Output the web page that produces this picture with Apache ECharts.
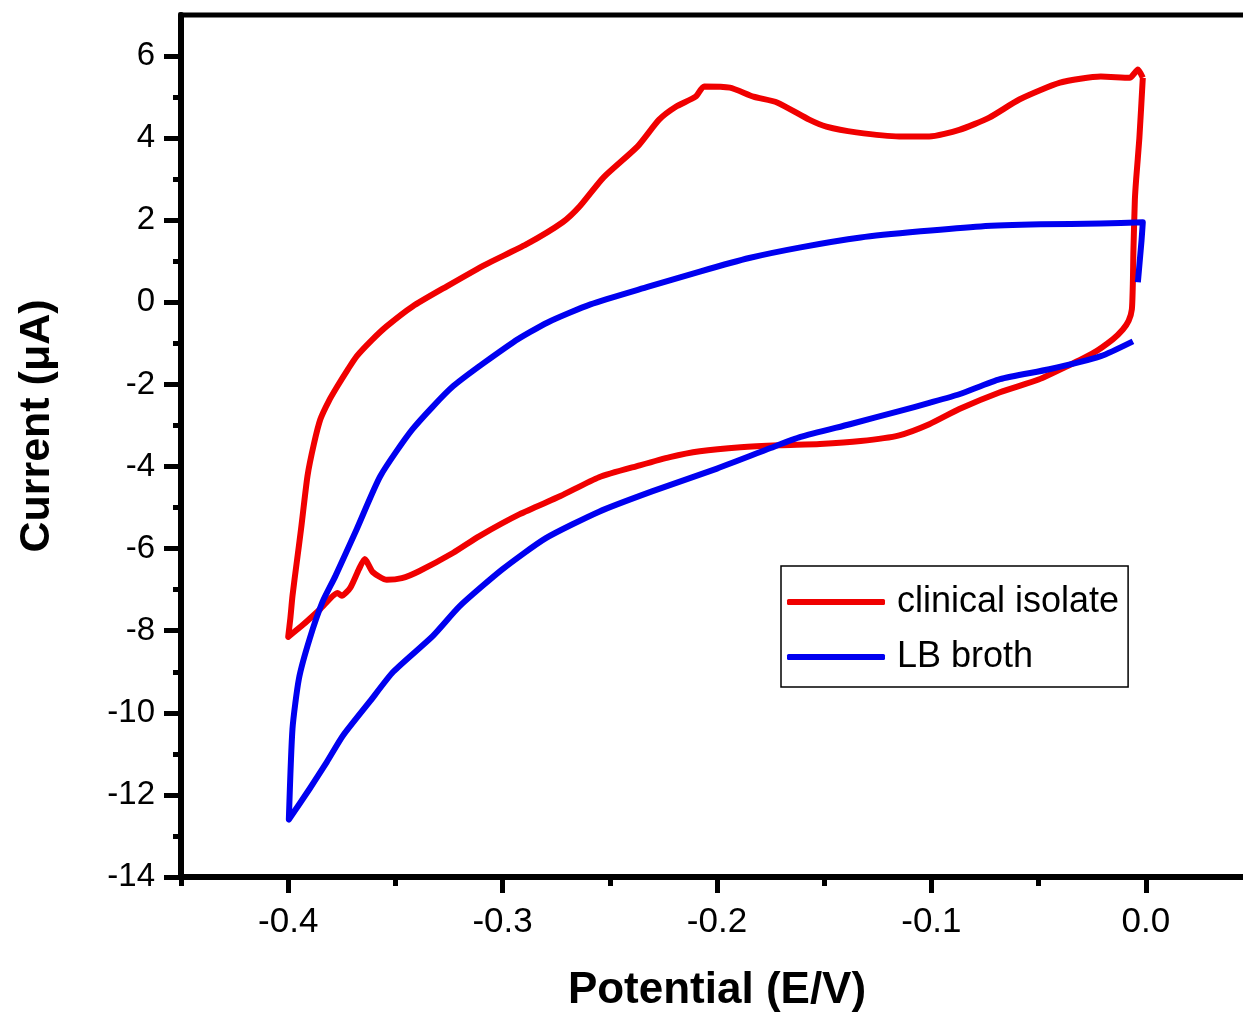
<!DOCTYPE html>
<html>
<head>
<meta charset="utf-8">
<script src="https://cdn.jsdelivr.net/npm/echarts@6/dist/echarts.min.js"></script>
<style>
html,body{margin:0;padding:0;background:#fff;}
#chart{width:1243px;height:1012px;}
</style>
</head>
<body>
<div id="chart"></div>
<script>
// clinical isolate (red) - potential / current, in drawing order
var redV = [-0.0014,-0.003,-0.0045,-0.0051,-0.0058,-0.006,-0.0065,-0.008,-0.0107,-0.0154,-0.025,-0.0368,-0.05,-0.068,-0.087,-0.101,-0.115,-0.133,-0.152,-0.171,-0.189,-0.208,-0.222,-0.236,-0.255,-0.273,-0.292,-0.311,-0.323,-0.339,-0.347,-0.354,-0.3606,-0.3643,-0.367,-0.371,-0.375,-0.377,-0.385,-0.393,-0.4,
  -0.399,-0.398,-0.396,-0.394,-0.391,-0.388,-0.385,-0.381,-0.377,-0.372,-0.368,-0.361,-0.354,-0.342,-0.326,-0.308,-0.289,-0.272,-0.264,-0.253,-0.237,-0.227,-0.219,-0.21,-0.206,-0.194,-0.183,-0.172,-0.157,-0.149,-0.135,-0.115,-0.101,-0.087,-0.073,-0.059,-0.04,-0.021,-0.0075,-0.0037,-0.0014];
var redI = [5.47,4.0,3.0,2.5,1.2,0.56,-0.17,-0.45,-0.66,-0.9,-1.25,-1.56,-1.88,-2.19,-2.6,-2.97,-3.24,-3.38,-3.45,-3.48,-3.53,-3.63,-3.77,-3.97,-4.26,-4.72,-5.16,-5.7,-6.1,-6.55,-6.72,-6.76,-6.57,-6.25,-6.5,-6.95,-7.15,-7.08,-7.47,-7.85,-8.15,
  -7.7,-7.15,-6.33,-5.52,-4.23,-3.45,-2.85,-2.4,-2.04,-1.62,-1.31,-0.92,-0.58,-0.1,0.39,0.92,1.41,1.95,2.34,3.04,3.8,4.45,4.77,5.01,5.26,5.23,5.01,4.87,4.45,4.28,4.14,4.04,4.04,4.2,4.5,4.94,5.35,5.5,5.47,5.67,5.47];

// LB broth (blue)
var blueV = [-0.006,-0.021,-0.045,-0.068,-0.087,-0.101,-0.115,-0.138,-0.161,-0.175,-0.2,-0.23,-0.255,-0.28,-0.3,-0.32,-0.3326,-0.351,-0.362,-0.3745,-0.382,-0.39,-0.3997,
  -0.398,-0.395,-0.39,-0.384,-0.378,-0.368,-0.357,-0.342,-0.323,-0.295,-0.279,-0.259,-0.232,-0.208,-0.185,-0.161,-0.133,-0.105,-0.077,-0.049,-0.021,-0.0014,-0.002,-0.0037];
var blueI = [-0.95,-1.31,-1.63,-1.87,-2.24,-2.45,-2.65,-2.97,-3.28,-3.55,-4.05,-4.6,-5.1,-5.75,-6.5,-7.4,-8.13,-9.0,-9.73,-10.56,-11.2,-11.85,-12.6,
  -10.39,-9.17,-8.2,-7.3,-6.67,-5.52,-4.23,-3.09,-2.04,-0.97,-0.49,-0.05,0.38,0.75,1.08,1.34,1.58,1.73,1.85,1.9,1.92,1.95,1.5,0.49];

var xMajor = [-0.4,-0.3,-0.2,-0.1,0.0];
var xMinor = [-0.45,-0.35,-0.25,-0.15,-0.05];
var yMajor = [-14,-12,-10,-8,-6,-4,-2,0,2,4,6];
var yMinor = [-13,-11,-9,-7,-5,-3,-1,1,3,5];

function pairs(xs, ys){
	var out = [];
	for(var i=0;i<xs.length;i++){
		out.push([xs[i], ys[i]]);
	}
	return out;
}

var font = 'Liberation Sans, Arial, sans-serif';

var option = {
	animation: false,
	backgroundColor: '#fff',
	// plot runs a little past the right edge of the picture (to 0.05)
	grid: {left: 181, top: 15, width: 1072, height: 862, outerBoundsMode: 'none', containLabel: false,
		show: true, borderColor: '#000', borderWidth: 5},
	legend: {
		orient: 'vertical', left: 781, top: 566,
		padding: [16, 9, 10, 6], itemWidth: 98, itemHeight: 6, itemGap: 15,
		icon: 'roundRect',
		borderColor: '#000', borderWidth: 1.5, backgroundColor: '#fff',
		textStyle: {fontSize: 36, color: '#000', fontFamily: font, lineHeight: 40, padding: [0, 0, 0, 7]},
		data: ['clinical isolate', 'LB broth']
	},
	xAxis: [{
		type: 'value', min: -0.45, max: 0.05, position: 'bottom',
		axisLine: {onZero: false, lineStyle: {color: '#000', width: 6}},
		axisTick: {customValues: xMajor, length: 16, lineStyle: {color: '#000', width: 5}},
		axisLabel: {customValues: xMajor, margin: 28, fontSize: 35, color: '#000', fontFamily: font,
			formatter: function(v){ return v.toFixed(1); }},
		splitLine: {show: false},
		name: 'Potential (E/V)', nameLocation: 'middle', nameGap: 92,
		nameTextStyle: {fontSize: 44, fontWeight: 'bold', color: '#000', fontFamily: font}
	},{
		type: 'value', min: -0.45, max: 0.05, position: 'bottom',
		axisLine: {show: false, onZero: false},
		axisTick: {customValues: xMinor, length: 9, lineStyle: {color: '#000', width: 5}},
		axisLabel: {show: false},
		splitLine: {show: false}
	}],
	yAxis: [{
		type: 'value', min: -14, max: 7, position: 'left',
		axisLine: {onZero: false, lineStyle: {color: '#000', width: 6}},
		axisTick: {customValues: yMajor, length: 17, lineStyle: {color: '#000', width: 5}},
		axisLabel: {customValues: yMajor, margin: 26, fontSize: 33, color: '#000', fontFamily: font},
		splitLine: {show: false},
		name: 'Current (μA)', nameLocation: 'middle', nameGap: 122,
		nameTextStyle: {fontSize: 43, fontWeight: 'bold', color: '#000', fontFamily: font, padding: [0, 0, 0, 40]}
	},{
		type: 'value', min: -14, max: 7, position: 'left',
		axisLine: {show: false, onZero: false},
		axisTick: {customValues: yMinor, length: 8, lineStyle: {color: '#000', width: 5}},
		axisLabel: {show: false},
		splitLine: {show: false}
	}],
	series: [{
		name: 'clinical isolate', type: 'line', symbol: 'none', smooth: 0.2,
		xAxisIndex: 0, yAxisIndex: 0,
		lineStyle: {color: '#f00000', width: 6, join: 'round'}, itemStyle: {color: '#f00000'},
		data: pairs(redV, redI)
	},{
		name: 'LB broth', type: 'line', symbol: 'none', smooth: 0.2,
		xAxisIndex: 0, yAxisIndex: 0,
		lineStyle: {color: '#0000f0', width: 6, join: 'round'}, itemStyle: {color: '#0000f0'},
		data: pairs(blueV, blueI)
	}]
};

var myChart = echarts.init(document.getElementById('chart'));
myChart.setOption(option);
</script>
</body>
</html>
